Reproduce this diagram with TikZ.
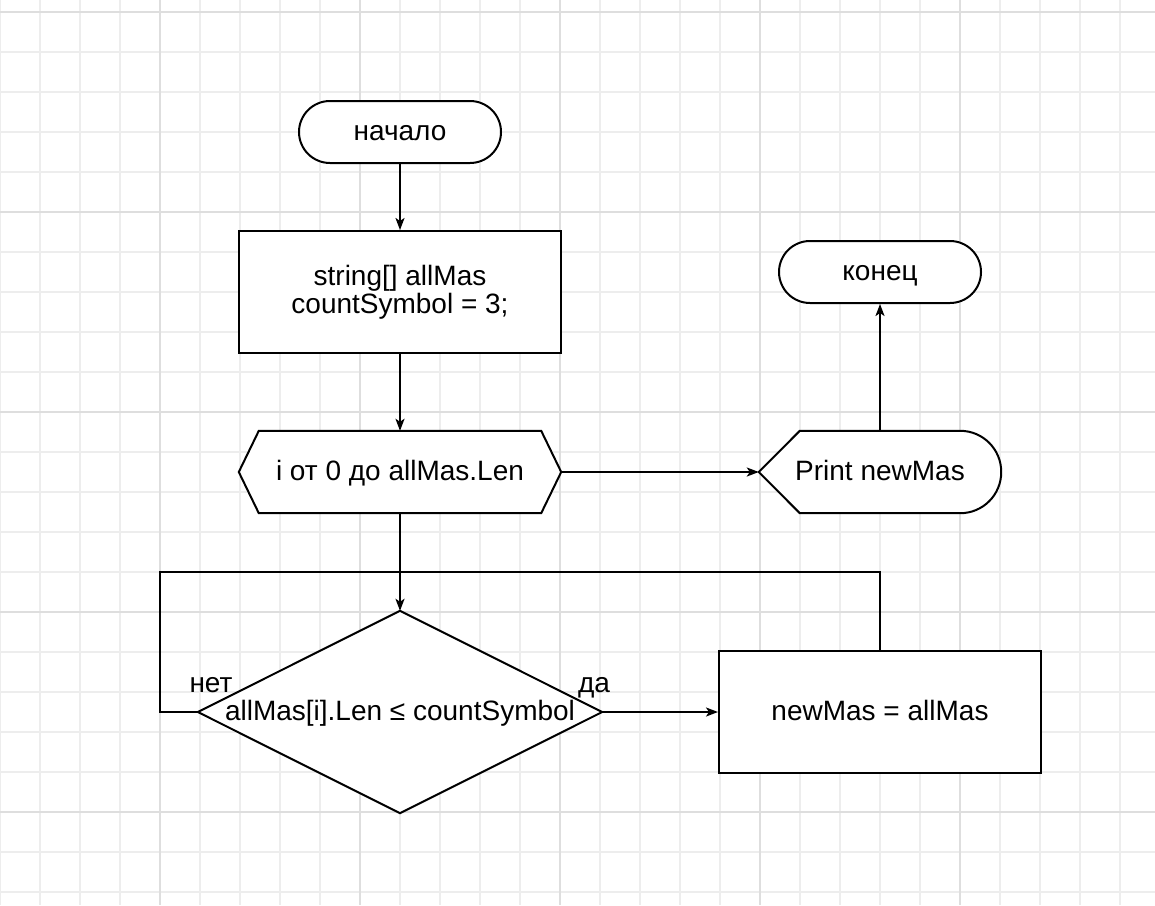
\documentclass[tikz,border=0pt]{standalone}
\usepackage{fontspec}
\setmainfont{Liberation Sans}
\usetikzlibrary{arrows.meta}
\begin{document}
\begin{tikzpicture}[x=1pt,y=-1pt,
  txt/.style={font=\fontsize{28}{28}\selectfont, align=center, inner sep=0pt},
  one/.style={txt, text height=22pt, text depth=6pt},
  shp/.style={draw, line width=2pt, fill=white},
  ghost/.style={draw=none, inner sep=0pt},
  ln/.style={line width=2pt},
  arr/.style={line width=2pt, -{Stealth[length=12pt,width=9pt,inset=3pt]}},
  lbl/.style={one}]
\fill[white] (0,0) rectangle (1155,905);
\useasboundingbox (0,0) rectangle (1155,905);
% grid
\foreach \x in {0,40,...,1160} \draw[line width=2pt, black!7] (\x,0) -- (\x,905);
\foreach \y in {12,52,...,905} \draw[line width=2pt, black!7] (0,\y) -- (1155,\y);
\foreach \x in {160,360,...,1160} \draw[line width=2pt, black!13] (\x,0) -- (\x,905);
\foreach \y in {12,212,...,905} \draw[line width=2pt, black!13] (0,\y) -- (1155,\y);
% nodes
\node[shp, one, rounded corners=31pt, minimum width=202pt, minimum height=62pt] (start) at (400,132) {начало};
\node[shp, txt, minimum width=322pt, minimum height=122pt] (init) at (400,292) {string[] allMas\\countSymbol = 3;};
\node[ghost, minimum width=322pt, minimum height=82pt] (hex) at (400,472) {};
\draw[ln, fill=white] (hex.west) -- ([xshift=20pt]hex.north west) -- ([xshift=-20pt]hex.north east) -- (hex.east) -- ([xshift=-20pt]hex.south east) -- ([xshift=20pt]hex.south west) -- cycle;
\node[one] at (hex.center) {i от 0 до allMas.Len};
\node[ghost, minimum width=242pt, minimum height=82pt] (pr) at (880,472) {};
\draw[ln, fill=white] (pr.west) -- ([xshift=41pt]pr.north west)
  [rounded corners=41pt] -- (pr.north east) -- (pr.south east) [sharp corners] -- ([xshift=41pt]pr.south west) -- cycle;
\node[one] at (pr.center) {Print newMas};
\node[shp, one, rounded corners=31pt, minimum width=202pt, minimum height=62pt] (end) at (880,272) {конец};
\node[ghost, minimum width=404pt, minimum height=202pt] (dia) at (400,712) {};
\draw[ln, fill=white] (dia.west) -- (dia.north) -- (dia.east) -- (dia.south) -- cycle;
\node[one] at (dia.center) {allMas[i].Len ≤ countSymbol};
\node[shp, one, minimum width=322pt, minimum height=122pt] (nm) at (880,712) {newMas = allMas};
\node[lbl] (no) at (211,684) {нет};
\node[lbl] (yes) at (594,684) {да};
% connectors
\coordinate (lc) at (160,712);
\coordinate (lt) at (160,572);
\coordinate (jn) at (400,572);
\draw[arr] (start.south) -- (init.north);
\draw[arr] (init.south) -- (hex.north);
\draw[arr] (hex.east) -- (pr.west);
\draw[arr] (pr.north) -- (end.south);
\draw[arr] (hex.south) -- (dia.north);
\draw[arr] (dia.east) -- (nm.west);
\draw[ln] (dia.west) -- (lc) -- (lt) -- (jn);
\draw[ln] (nm.north) |- (jn);
\end{tikzpicture}
\end{document}
